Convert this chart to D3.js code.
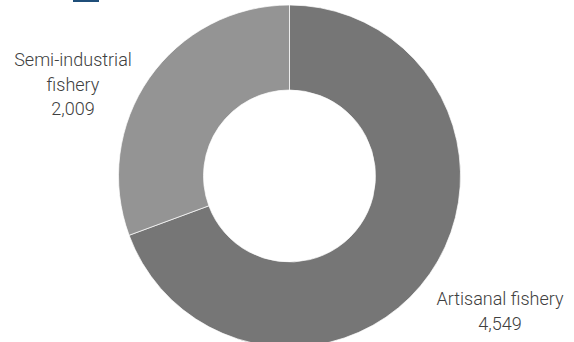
<!DOCTYPE html>
<html>
<head>
<meta charset="utf-8">
<script src="https://cdn.jsdelivr.net/npm/d3@7"></script>
<style>
  body { margin: 0; background: #fff; }
  text { font-family: Roboto, "Noto Sans", sans-serif; font-weight: 300; fill: #404040; }
</style>
</head>
<body>
<div id="vis"></div>
<script>
// data
var categories = ["Artisanal fishery", "Semi-industrial fishery"];
var values = [4549, 2009];
var colours = ["#767676", "#949494"];
// label lines for each slice
var labelLines = [["Artisanal fishery", "4,549"], ["Semi-industrial", "fishery", "2,009"]];

var w = 574, h = 342;
var cx = 289.5, cy = 176, outerR = 171, innerR = 86;

var svg = d3.select("#vis").append("svg")
    .attr("width", w)
    .attr("height", h);

// small blue marker at top
svg.append("rect")
    .attr("x", 73).attr("y", 0)
    .attr("width", 26).attr("height", 2)
    .attr("fill", "#1f4e79");

var pie = d3.pie().sort(null).value(function(d) { return d; });
var arc = d3.arc().innerRadius(innerR).outerRadius(outerR);

var g = svg.append("g")
    .attr("transform", "translate(" + cx + "," + cy + ")");

g.selectAll("path")
    .data(pie(values))
    .enter().append("path")
    .attr("d", arc)
    .attr("fill", function(d, i) { return colours[i]; })
    .attr("stroke", "#fff")
    .attr("stroke-width", 0.7);

// label positions (centre x, first baseline)
var labelPos = [[500, 305], [73, 66]];

var labels = svg.selectAll("g.lbl")
    .data(labelLines)
    .enter().append("text")
    .attr("text-anchor", "middle")
    .style("font-size", "18px");

labels.each(function(lines, i) {
    var t = d3.select(this);
    lines.forEach(function(s, k) {
        t.append("tspan")
            .attr("x", labelPos[i][0])
            .attr("y", labelPos[i][1] + k * 24.5)
            .text(s);
    });
});
</script>
</body>
</html>
